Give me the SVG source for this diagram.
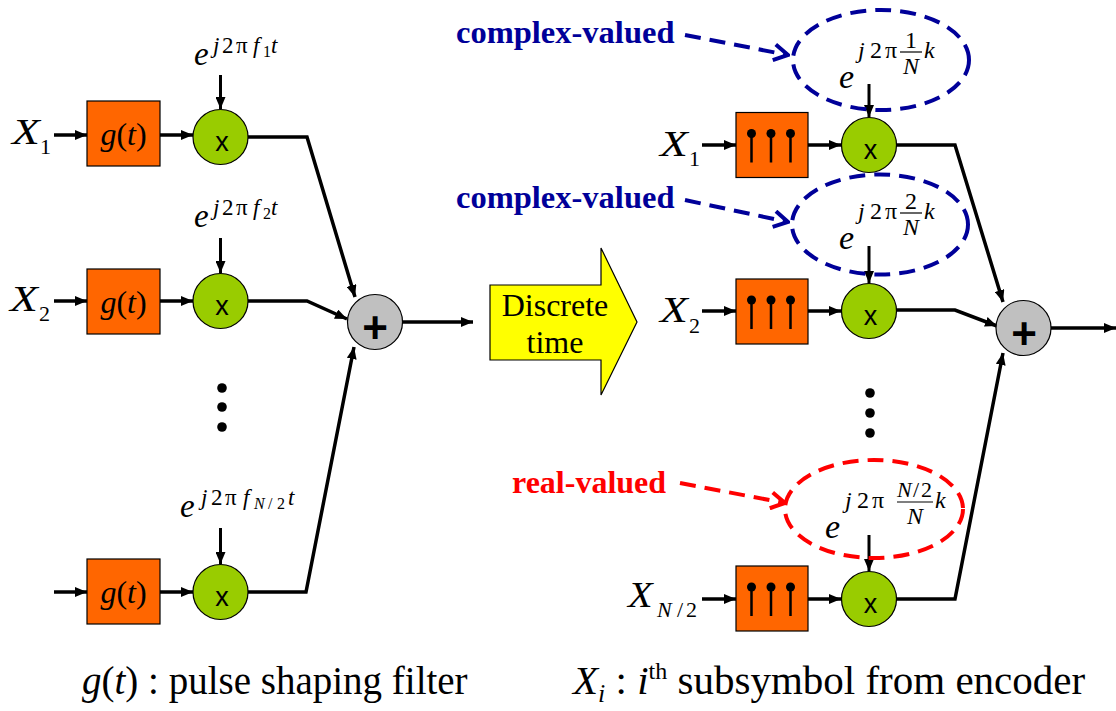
<svg xmlns="http://www.w3.org/2000/svg" width="1116" height="711" viewBox="0 0 1116 711">
  <style>
    .filter { fill: #FF6600; stroke: #000; stroke-width: 1.2; }
    .mixer { fill: #99CC00; stroke: #000; stroke-width: 1.2; }
    .adder { fill: #C0C0C0; stroke: #000; stroke-width: 1.2; }
    .wire { fill: none; stroke: #000; stroke-width: 3.5; stroke-linejoin: miter; }
    .feed { fill: none; stroke: #000; stroke-width: 3; }
    .stem { stroke: #000; stroke-width: 2.5; }
    .bulb { fill: #000; }
    .dot { fill: #000; }
    .blue { fill: none; stroke: #000099; stroke-width: 4; stroke-dasharray: 16 9; }
    .red { fill: none; stroke: #FF0000; stroke-width: 4; stroke-dasharray: 16 9; }
    .frac { stroke: #000; stroke-width: 1.2; }
  </style>
  <defs>
    <marker id="tri" viewBox="0 0 12 10" refX="12" refY="5" markerWidth="12" markerHeight="10" markerUnits="userSpaceOnUse" orient="auto">
      <path d="M0,0 L12,5 L0,10 Z" fill="#000"/>
    </marker>
    <marker id="vBlue" viewBox="-16 -10 18 20" refX="0" refY="0" markerWidth="18" markerHeight="20" markerUnits="userSpaceOnUse" orient="auto">
      <path d="M-14,-8 L0,0 L-14,8" fill="none" stroke="#000099" stroke-width="4"/>
    </marker>
    <marker id="vRed" viewBox="-16 -10 18 20" refX="0" refY="0" markerWidth="18" markerHeight="20" markerUnits="userSpaceOnUse" orient="auto">
      <path d="M-14,-8 L0,0 L-14,8" fill="none" stroke="#FF0000" stroke-width="4"/>
    </marker>
    <!-- sampled-pulse filter symbol -->
    <g id="lolly">
      <line class="stem" x1="15.5" y1="21" x2="15.5" y2="50"/>
      <line class="stem" x1="35" y1="21" x2="35" y2="50"/>
      <line class="stem" x1="54.5" y1="21" x2="54.5" y2="50"/>
      <circle class="bulb" cx="15.5" cy="21" r="4.5"/>
      <circle class="bulb" cx="35" cy="21" r="4.5"/>
      <circle class="bulb" cx="54.5" cy="21" r="4.5"/>
    </g>
  </defs>

  <!-- connectors -->
  <g id="connectors">
    <!-- continuous-time branches -->
    <line class="wire" x1="54" y1="135" x2="87" y2="135" marker-end="url(#tri)"/>
    <line class="wire" x1="160" y1="135" x2="193" y2="135" marker-end="url(#tri)"/>
    <line class="feed" x1="220.5" y1="75" x2="220.5" y2="109" marker-end="url(#tri)"/>
    <path class="wire" d="M248,137 H307 L355,297" marker-end="url(#tri)"/>

    <line class="wire" x1="54" y1="301" x2="87" y2="301" marker-end="url(#tri)"/>
    <line class="wire" x1="160" y1="301" x2="193" y2="301" marker-end="url(#tri)"/>
    <line class="feed" x1="220.5" y1="238" x2="220.5" y2="273" marker-end="url(#tri)"/>
    <path class="wire" d="M248,301 H307 L347,319" marker-end="url(#tri)"/>

    <line class="wire" x1="54" y1="592" x2="87" y2="592" marker-end="url(#tri)"/>
    <line class="wire" x1="160" y1="592" x2="193" y2="592" marker-end="url(#tri)"/>
    <line class="feed" x1="220.5" y1="528" x2="220.5" y2="564" marker-end="url(#tri)"/>
    <path class="wire" d="M248,592 H306 L354,347" marker-end="url(#tri)"/>

    <line class="wire" x1="402" y1="322" x2="473" y2="322" marker-end="url(#tri)"/>

    <!-- discrete-time branches -->
    <line class="wire" x1="702" y1="145" x2="736" y2="145" marker-end="url(#tri)"/>
    <line class="wire" x1="808" y1="145" x2="841" y2="145" marker-end="url(#tri)"/>
    <line class="feed" x1="869" y1="84" x2="869" y2="117" marker-end="url(#tri)"/>
    <path class="wire" d="M896,145 H955 L1003,302" marker-end="url(#tri)"/>

    <line class="wire" x1="702" y1="311" x2="736" y2="311" marker-end="url(#tri)"/>
    <line class="wire" x1="808" y1="311" x2="841" y2="311" marker-end="url(#tri)"/>
    <line class="feed" x1="869" y1="246" x2="869" y2="283" marker-end="url(#tri)"/>
    <path class="wire" d="M896,310 H955 L997,326" marker-end="url(#tri)"/>

    <line class="wire" x1="702" y1="599" x2="736" y2="599" marker-end="url(#tri)"/>
    <line class="wire" x1="808" y1="599" x2="841" y2="599" marker-end="url(#tri)"/>
    <line class="feed" x1="869" y1="535" x2="869" y2="571" marker-end="url(#tri)"/>
    <path class="wire" d="M896,599 H955 L1003,353" marker-end="url(#tri)"/>

    <line class="wire" x1="1051" y1="328" x2="1116" y2="328" marker-end="url(#tri)"/>

    <!-- callout leaders -->
    <line class="blue" x1="685" y1="35" x2="788" y2="55" marker-end="url(#vBlue)"/>
    <line class="blue" x1="685" y1="200" x2="788" y2="222" marker-end="url(#vBlue)"/>
    <line class="red" x1="680" y1="483" x2="785" y2="503" marker-end="url(#vRed)"/>
  </g>

  <!-- all serif lettering shares one family -->
  <g font-family="'Liberation Serif', 'Times New Roman', serif" fill="#000">

  <!-- continuous-time transmitter -->
  <g id="in-x1">
    <text transform="translate(12,144) scale(1.3,1)" font-size="35" font-style="italic">X</text>
    <text x="40" y="154" font-size="22">1</text>
  </g>
  <g id="g1">
    <rect class="filter" x="87" y="101" width="73" height="65"/>
    <text x="123.5" y="145" font-size="32" text-anchor="middle"><tspan font-style="italic">g</tspan>(<tspan font-style="italic">t</tspan>)</text>
  </g>
  <g id="mix1">
    <circle class="mixer" cx="220.5" cy="137" r="27.5"/>
    <text x="222" y="151" font-size="27" text-anchor="middle" font-family="'Liberation Sans', Arial, sans-serif">x</text>
  </g>
  <g id="carrier1">
    <text x="194" y="65" font-size="33" font-style="italic">e</text>
    <text y="53" font-size="23"><tspan x="213" font-style="italic">j</tspan><tspan x="222">2</tspan><tspan x="236">π</tspan><tspan x="253" font-style="italic">f</tspan><tspan x="263" y="57" font-size="16">1</tspan><tspan x="271" y="53" font-style="italic">t</tspan></text>
  </g>

  <g id="in-x2">
    <text transform="translate(10,311) scale(1.3,1)" font-size="35" font-style="italic">X</text>
    <text x="39" y="321" font-size="22">2</text>
  </g>
  <g id="g2">
    <rect class="filter" x="87" y="269" width="73" height="65"/>
    <text x="123.5" y="313" font-size="32" text-anchor="middle"><tspan font-style="italic">g</tspan>(<tspan font-style="italic">t</tspan>)</text>
  </g>
  <g id="mix2">
    <circle class="mixer" cx="220.5" cy="301" r="27.5"/>
    <text x="222" y="315" font-size="27" text-anchor="middle" font-family="'Liberation Sans', Arial, sans-serif">x</text>
  </g>
  <g id="carrier2">
    <text x="194" y="227" font-size="33" font-style="italic">e</text>
    <text y="215" font-size="23"><tspan x="213" font-style="italic">j</tspan><tspan x="222">2</tspan><tspan x="236">π</tspan><tspan x="253" font-style="italic">f</tspan><tspan x="263" y="219" font-size="16">2</tspan><tspan x="271" y="215" font-style="italic">t</tspan></text>
  </g>

  <g id="dots-left">
    <circle class="dot" cx="222" cy="388" r="4.8"/>
    <circle class="dot" cx="222" cy="407" r="4.8"/>
    <circle class="dot" cx="222" cy="427" r="4.8"/>
  </g>

  <g id="g3">
    <rect class="filter" x="87" y="559" width="73" height="65"/>
    <text x="123.5" y="603" font-size="32" text-anchor="middle"><tspan font-style="italic">g</tspan>(<tspan font-style="italic">t</tspan>)</text>
  </g>
  <g id="mix3">
    <circle class="mixer" cx="220.5" cy="592" r="27.5"/>
    <text x="222" y="606" font-size="27" text-anchor="middle" font-family="'Liberation Sans', Arial, sans-serif">x</text>
  </g>
  <g id="carrier3">
    <text x="180" y="517" font-size="33" font-style="italic">e</text>
    <text y="505" font-size="23"><tspan x="201" font-style="italic">j</tspan><tspan x="211">2</tspan><tspan x="225">π</tspan><tspan x="243" font-style="italic">f</tspan><tspan x="254" y="509" font-size="16" font-style="italic">N</tspan><tspan x="268" y="509" font-size="16">/</tspan><tspan x="277" y="509" font-size="16">2</tspan><tspan x="288" y="505" font-style="italic">t</tspan></text>
  </g>

  <g id="sum-ct">
    <circle class="adder" cx="375" cy="322" r="27.5"/>
    <text x="375" y="343" font-size="44" font-weight="bold" text-anchor="middle" font-family="'Liberation Sans', Arial, sans-serif">+</text>
  </g>

  <!-- transition block -->
  <g id="discrete-time">
    <path d="M490,285 H601 V248 L637,322 L601,395 V360 H490 Z" fill="#FFFF00" stroke="#000" stroke-width="1.2"/>
    <text x="555" y="316" font-size="32" text-anchor="middle">Discrete</text>
    <text x="555" y="353" font-size="32" text-anchor="middle">time</text>
  </g>

  <!-- discrete-time transmitter -->
  <g id="in-dx1">
    <text transform="translate(660,156) scale(1.3,1)" font-size="35" font-style="italic">X</text>
    <text x="689" y="166" font-size="22">1</text>
  </g>
  <g id="d1">
    <rect class="filter" x="736" y="112.5" width="72" height="65"/>
    <use href="#lolly" x="736" y="112.5"/>
  </g>
  <g id="dmix1">
    <circle class="mixer" cx="869" cy="145" r="27.5"/>
    <text x="870.5" y="159" font-size="27" text-anchor="middle" font-family="'Liberation Sans', Arial, sans-serif">x</text>
  </g>
  <g id="dcarrier1">
    <ellipse class="blue" cx="881" cy="60" rx="88" ry="50"/>
    <text x="839" y="88" font-size="34" font-style="italic">e</text>
    <text y="58" font-size="24"><tspan x="858" font-style="italic">j</tspan><tspan x="870">2</tspan><tspan x="885">π</tspan></text>
    <text x="911" y="48" font-size="24" text-anchor="middle">1</text>
    <line class="frac" x1="900" y1="52" x2="922" y2="52"/>
    <text x="911" y="74" font-size="24" text-anchor="middle" font-style="italic">N</text>
    <text x="924" y="58" font-size="24" font-style="italic">k</text>
  </g>
  <g id="note1">
    <text x="456" y="43" font-size="32.5" font-weight="bold" fill="#000099">complex-valued</text>
  </g>

  <g id="in-dx2">
    <text transform="translate(660,322) scale(1.3,1)" font-size="35" font-style="italic">X</text>
    <text x="689" y="333" font-size="22">2</text>
  </g>
  <g id="d2">
    <rect class="filter" x="736" y="279" width="72" height="65"/>
    <use href="#lolly" x="736" y="279"/>
  </g>
  <g id="dmix2">
    <circle class="mixer" cx="869" cy="311" r="27.5"/>
    <text x="870.5" y="325" font-size="27" text-anchor="middle" font-family="'Liberation Sans', Arial, sans-serif">x</text>
  </g>
  <g id="dcarrier2">
    <ellipse class="blue" cx="880" cy="224.5" rx="88" ry="50"/>
    <text x="839" y="249" font-size="34" font-style="italic">e</text>
    <text y="219" font-size="24"><tspan x="858" font-style="italic">j</tspan><tspan x="870">2</tspan><tspan x="885">π</tspan></text>
    <text x="911" y="209" font-size="24" text-anchor="middle">2</text>
    <line class="frac" x1="900" y1="213" x2="922" y2="213"/>
    <text x="911" y="235" font-size="24" text-anchor="middle" font-style="italic">N</text>
    <text x="924" y="219" font-size="24" font-style="italic">k</text>
  </g>
  <g id="note2">
    <text x="456" y="208" font-size="32.5" font-weight="bold" fill="#000099">complex-valued</text>
  </g>

  <g id="dots-right">
    <circle class="dot" cx="870" cy="393" r="4.8"/>
    <circle class="dot" cx="870" cy="413" r="4.8"/>
    <circle class="dot" cx="870" cy="433" r="4.8"/>
  </g>

  <g id="in-dx3">
    <text transform="translate(628,607) scale(1.15,1)" font-size="35" font-style="italic">X</text>
    <text y="617" font-size="22"><tspan x="657" font-style="italic">N</tspan><tspan x="677">/</tspan><tspan x="686">2</tspan></text>
  </g>
  <g id="d3">
    <rect class="filter" x="736" y="566" width="72" height="65"/>
    <use href="#lolly" x="736" y="566"/>
  </g>
  <g id="dmix3">
    <circle class="mixer" cx="869" cy="599" r="27.5"/>
    <text x="870.5" y="613" font-size="27" text-anchor="middle" font-family="'Liberation Sans', Arial, sans-serif">x</text>
  </g>
  <g id="dcarrier3">
    <ellipse class="red" cx="874" cy="509" rx="89" ry="49"/>
    <text x="825" y="538" font-size="34" font-style="italic">e</text>
    <text y="508" font-size="24"><tspan x="845" font-style="italic">j</tspan><tspan x="857">2</tspan><tspan x="872">π</tspan></text>
    <text y="497" font-size="22"><tspan x="897" font-style="italic">N</tspan><tspan x="913">/</tspan><tspan x="921">2</tspan></text>
    <line class="frac" x1="897" y1="502" x2="933" y2="502"/>
    <text x="915" y="524" font-size="24" text-anchor="middle" font-style="italic">N</text>
    <text x="935" y="508" font-size="24" font-style="italic">k</text>
  </g>
  <g id="note3">
    <text x="512" y="493" font-size="32" font-weight="bold" fill="#FF0000">real-valued</text>
  </g>

  <g id="sum-dt">
    <circle class="adder" cx="1023.5" cy="328" r="27.5"/>
    <text x="1024" y="349" font-size="44" font-weight="bold" text-anchor="middle" font-family="'Liberation Sans', Arial, sans-serif">+</text>
  </g>

  <!-- legend -->
  <g id="legend">
    <text x="82" y="694" font-size="39"><tspan font-style="italic">g</tspan>(<tspan font-style="italic">t</tspan>) : pulse shaping filter</text>
    <text x="573" y="694" font-size="41"><tspan font-style="italic">X</tspan><tspan font-style="italic" font-size="26" dy="8">i</tspan><tspan dy="-8"> : </tspan><tspan font-style="italic">i</tspan><tspan font-size="24" dy="-15">th</tspan><tspan dy="15"> subsymbol from encoder</tspan></text>
  </g>

  </g>
</svg>
